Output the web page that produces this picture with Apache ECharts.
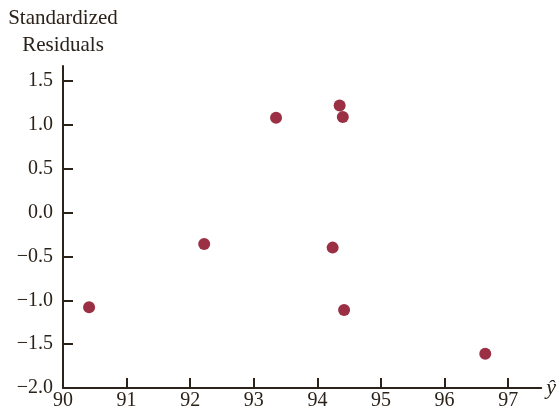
<!DOCTYPE html>
<html><head><meta charset="utf-8">
<script src="https://cdn.jsdelivr.net/npm/echarts@6/dist/echarts.min.js"></script>
<style>html,body{margin:0;padding:0;background:#fff}#c{width:559px;height:412px}</style>
</head><body><div id="c"></div>
<script>
const fittedValues = [90.41, 92.22, 93.35, 94.35, 94.40, 94.24, 94.42, 96.64];
const stdResiduals = [-1.08, -0.36, 1.08, 1.22, 1.09, -0.40, -1.11, -1.61];
const xTicks = [90, 91, 92, 93, 94, 95, 96, 97];
const yTicks = [-2.0, -1.5, -1.0, -0.5, 0.0, 0.5, 1.0, 1.5];
const yTitle = 'Standardized\nResiduals';
const xTitle = 'ŷ';

const ink = '#2b2219';
const font = 'Liberation Serif';
const fmt = v => (v < 0 ? '\u2212' : '') + Math.abs(v).toFixed(1);

const chart = echarts.init(document.getElementById('c'), null, {renderer: 'canvas'});
chart.setOption({
  animation: false,
  backgroundColor: '#fff',
  grid: {left: 63, right: 16, top: 66, bottom: 24, containLabel: false},
  xAxis: {
    type: 'value', min: 90, max: 97.52,
    name: xTitle, nameLocation: 'end', nameGap: 5,
    nameTextStyle: {fontFamily: font, fontSize: 22, fontStyle: 'italic', color: ink, verticalAlign: 'middle', padding: [4,0,0,0]},
    splitLine: {show: false},
    axisLine: {onZero: false, lineStyle: {color: ink, width: 2}},
    axisTick: {inside: true, length: 10, lineStyle: {color: ink, width: 2}, customValues: xTicks},
    axisLabel: {customValues: xTicks, fontFamily: font, fontSize: 20, color: ink, margin: 3, formatter: v => String(Math.round(v))}
  },
  yAxis: {
    type: 'value', min: -2.0, max: 1.67,
    name: yTitle, nameLocation: 'end', nameGap: 7,
    nameTextStyle: {fontFamily: font, fontSize: 21, color: ink, align: 'center', lineHeight: 27},
    splitLine: {show: false},
    axisLine: {onZero: false, lineStyle: {color: ink, width: 2}},
    axisTick: {inside: true, length: 10, lineStyle: {color: ink, width: 2}, customValues: yTicks},
    axisLabel: {customValues: yTicks, fontFamily: font, fontSize: 20, color: ink, margin: 10, formatter: fmt}
  },
  series: [{
    type: 'scatter',
    data: fittedValues.map((x, i) => [x, stdResiduals[i]]),
    symbolSize: 12,
    itemStyle: {color: '#9b3045', opacity: 1},
    z: 5
  }]
});
</script></body></html>
